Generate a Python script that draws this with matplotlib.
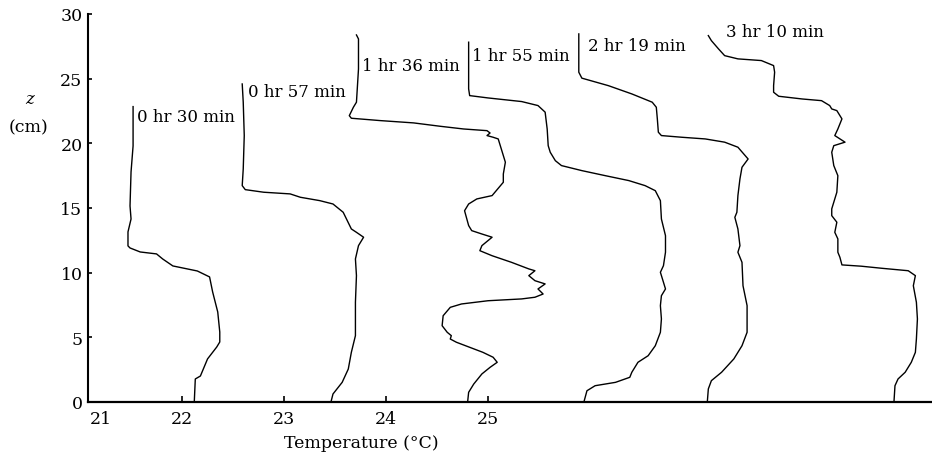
import matplotlib
matplotlib.use("Agg")
import matplotlib.pyplot as plt

# ---------------- data ----------------
labels = ["0 hr 30 min", "0 hr 57 min", "1 hr 36 min", "1 hr 55 min", "2 hr 19 min", "3 hr 10 min"]

T1 = [21.52, 21.52, 21.52, 21.50, 21.49, 21.50, 21.47, 21.47, 21.49, 21.59, 21.75, 21.81, 21.91,
      22.15, 22.27, 22.30, 22.35, 22.37, 22.37, 22.34, 22.25, 22.18, 22.13, 22.12]
Z1 = [22.84, 21.89, 19.80, 17.79, 15.16, 14.15, 13.15, 12.07, 11.91, 11.60, 11.45, 11.06, 10.52,
      10.13, 9.67, 8.51, 6.96, 5.41, 4.64, 4.25, 3.33, 2.01, 1.78, 0]

T2 = [22.59, 22.60, 22.61, 22.60, 22.59, 22.62, 22.80, 23.06, 23.16, 23.35, 23.48, 23.58, 23.66,
      23.71, 23.78, 23.73, 23.70, 23.71, 23.70, 23.70, 23.66, 23.63, 23.57, 23.48, 23.46]
Z2 = [24.59, 23.18, 20.60, 18.02, 16.73, 16.42, 16.22, 16.09, 15.83, 15.57, 15.31, 14.67, 13.38,
      13.12, 12.74, 12.09, 11.06, 9.77, 7.71, 5.13, 3.84, 2.55, 1.52, 0.62, 0]

T3 = [23.71, 23.73, 23.73, 23.72, 23.71, 23.68, 23.64, 23.66, 23.94, 24.27, 24.53, 24.76, 24.99,
      25.02, 24.99, 25.05, 25.10, 25.13, 25.17, 25.15, 25.15, 25.04, 24.89, 24.81, 24.77, 24.81,
      24.84, 24.94, 25.04, 24.94, 24.92, 25.04, 25.23, 25.40, 25.46, 25.40, 25.46, 25.56, 25.49,
      25.54, 25.46, 25.33, 25.00, 24.74, 24.63, 24.56, 24.55, 24.60, 24.64, 24.63, 24.69, 24.82,
      24.95, 25.05, 25.09, 25.02, 24.94, 24.86, 24.81, 24.80]
Z3 = [28.38, 28.07, 25.75, 24.46, 23.18, 22.79, 22.14, 21.94, 21.76, 21.58, 21.32, 21.11, 20.98,
      20.80, 20.60, 20.47, 20.34, 19.57, 18.54, 17.63, 16.99, 15.96, 15.70, 15.31, 14.79, 13.64,
      13.25, 12.99, 12.74, 12.09, 11.70, 11.31, 10.80, 10.29, 10.15, 9.77, 9.38, 9.13, 8.74,
      8.35, 8.10, 7.97, 7.83, 7.58, 7.32, 6.67, 5.90, 5.39, 5.13, 4.87, 4.62, 4.23,
      3.84, 3.46, 3.07, 2.68, 2.17, 1.39, 0.75, 0]

T4 = [24.81, 24.81, 24.81, 24.82, 25.00, 25.33, 25.49, 25.56, 25.58, 25.59, 25.61, 25.66, 25.72,
      25.92, 26.15, 26.38, 26.54, 26.64, 26.69, 26.70, 26.74, 26.74, 26.72, 26.69, 26.72, 26.74,
      26.70, 26.69, 26.70, 26.69, 26.64, 26.57, 26.47, 26.41, 26.39, 26.25, 26.05, 25.97, 25.94]
Z4 = [27.82, 26.27, 24.21, 23.69, 23.51, 23.23, 22.92, 22.41, 21.11, 19.82, 19.31, 18.66, 18.28,
      17.89, 17.50, 17.12, 16.73, 16.34, 15.57, 14.15, 12.86, 11.58, 10.54, 10.03, 9.26, 8.74,
      8.22, 7.45, 6.42, 5.39, 4.35, 3.58, 3.07, 2.30, 1.91, 1.52, 1.26, 0.87, 0]

T5 = [25.89, 25.89, 25.89, 25.92, 26.18, 26.41, 26.61, 26.65, 26.66, 26.67, 26.70, 26.90, 27.13,
      27.32, 27.45, 27.55, 27.49, 27.47, 27.45, 27.44, 27.42, 27.45, 27.47, 27.45, 27.49, 27.50,
      27.54, 27.54, 27.49, 27.41, 27.29, 27.19, 27.16, 27.15]
Z5 = [28.46, 27.05, 25.50, 25.04, 24.46, 23.82, 23.18, 22.79, 21.89, 20.86, 20.60, 20.47, 20.34,
      20.09, 19.70, 18.79, 18.15, 17.25, 15.96, 14.67, 14.28, 13.38, 12.09, 11.58, 10.80, 8.99,
      7.45, 5.39, 4.35, 3.33, 2.30, 1.65, 1.01, 0]

T6 = [27.16, 27.19, 27.26, 27.32, 27.45, 27.68, 27.80, 27.81, 27.80, 27.80, 27.85, 28.08, 28.27,
      28.35, 28.37, 28.42, 28.47, 28.43, 28.40, 28.50, 28.39, 28.37, 28.39, 28.43, 28.42, 28.37,
      28.37, 28.42, 28.40, 28.43, 28.43, 28.45, 28.47, 28.66, 28.86, 29.12, 29.19, 29.17, 29.20,
      29.21, 29.20, 29.19, 29.15, 29.09, 29.02, 28.99, 28.98]
Z6 = [28.33, 27.94, 27.30, 26.78, 26.53, 26.40, 26.01, 25.50, 24.46, 23.95, 23.64, 23.43, 23.30,
      22.92, 22.66, 22.53, 21.89, 21.11, 20.60, 20.09, 19.82, 19.31, 18.28, 17.50, 16.22, 14.93,
      14.41, 13.90, 13.12, 12.61, 11.58, 11.19, 10.60, 10.50, 10.34, 10.15, 9.77, 8.99, 7.71,
      6.42, 4.87, 3.84, 3.07, 2.30, 1.78, 1.26, 0]

xtick_labels = ["21", "22", "23", "24", "25"]
ytick_values = [0, 5, 10, 15, 20, 25, 30]

# ---------------- layout / style ----------------
temps = [T1, T2, T3, T4, T5, T6]
depths = [Z1, Z2, Z3, Z4, Z5, Z6]
label_pos = [(21.56, 22.1), (22.65, 23.97), (23.76, 25.99), (24.84, 26.76), (25.98, 27.53), (27.33, 28.62)]
xtick_pos = [21.2, 22, 23, 24, 25]

serif = ["DejaVu Serif"]
W, H = 932, 460
fig = plt.figure(figsize=(W / 100, H / 100), dpi=100)
ax = fig.add_axes([88 / W, 57 / H, (W - 88) / W, (403 - 15) / H])

for T, Z in zip(temps, depths):
    ax.plot(T, Z, color="black", lw=1.0, solid_joinstyle="round")

for lab, (x, y) in zip(labels, label_pos):
    ax.text(x, y, lab, ha="left", va="center", fontsize=12, family=serif)

ax.set_xlim(21.078, 29.353)
ax.set_ylim(0, 30)
for s in ["top", "right"]:
    ax.spines[s].set_visible(False)
ax.spines["left"].set_linewidth(1.5)
ax.spines["bottom"].set_linewidth(1.6)

ax.set_xticks(xtick_pos)
ax.set_xticklabels(xtick_labels, family=serif, fontsize=12.5)
ax.set_yticks(ytick_values)
ax.set_yticklabels([str(v) for v in ytick_values], family=serif, fontsize=12.5)
ax.tick_params(axis="x", direction="in", length=4, width=1.2, pad=6)
ax.tick_params(axis="y", direction="in", length=3, width=1.2, pad=4)
ax.xaxis.get_major_ticks()[0].tick1line.set_visible(False)

ax.set_xlabel("Temperature (°C)", family=serif, fontsize=12.5, va="center")
ax.xaxis.set_label_coords((361 - 88) / (W - 88), -(444 - 403) / (403 - 15))

fig.text(30 / W, 1 - 100 / H, "z", family=serif, style="italic", fontsize=12, ha="center", va="center")
fig.text(28 / W, 1 - 128 / H, "(cm)", family=serif, fontsize=12.5, ha="center", va="center")

fig.savefig("out.png", dpi=100)
